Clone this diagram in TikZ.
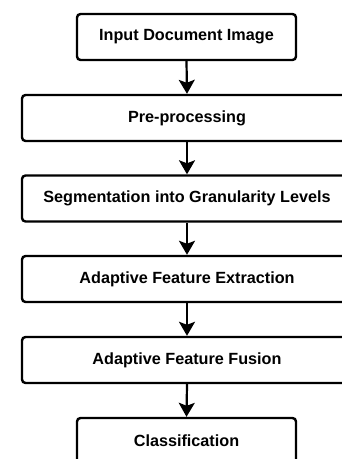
\documentclass[tikz,border=0pt]{standalone}
\usepackage{fontspec}
\setmainfont{Liberation Sans}
\usetikzlibrary{arrows.meta}
\begin{document}
\begin{tikzpicture}[x=1pt,y=1pt,
  stepbox/.style={draw=black,line width=2.4pt,rounded corners=3.5pt,fill=white,
    minimum height=46pt,inner sep=0pt,font=\fontsize{16.2}{19}\selectfont\bfseries},
  narrowbox/.style={stepbox,minimum width=219pt},
  widebox/.style={stepbox,minimum width=330pt},
  flow/.style={line width=2.2pt,-{Stealth[length=14pt,width=16pt,inset=3pt]}}]
\useasboundingbox (0,0) rectangle (342,-459);
\clip (0,0) rectangle (342,-459);
\node[narrowbox] (b1) at (186.5,-37) {Input Document Image};
\node[widebox] (b2) at (187,-118) {Pre-processing};
\node[widebox] (b3) at (187,-198.5) {Segmentation into Granularity Levels};
\node[widebox] (b4) at (187,-279) {Adaptive Feature Extraction};
\node[widebox] (b5) at (187,-360) {Adaptive Feature Fusion};
\node[narrowbox] (b6) at (186.5,-441) {Classification};
\draw[flow] (b1.south) -- (b2.north);
\draw[flow] (b2.south) -- (b3.north);
\draw[flow] (b3.south) -- (b4.north);
\draw[flow] (b4.south) -- (b5.north);
\draw[flow] (b5.south) -- (b6.north);
\end{tikzpicture}
\end{document}
